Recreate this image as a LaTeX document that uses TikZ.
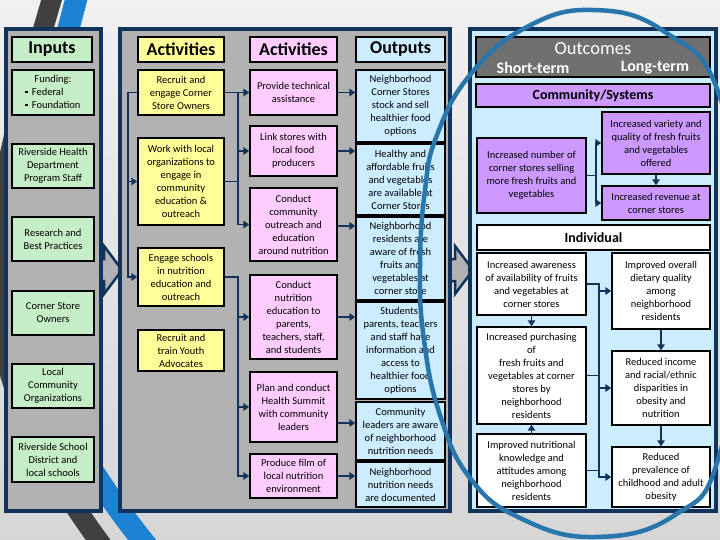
\documentclass[tikz,border=0pt]{standalone}
\usepackage{fontspec}
\setmainfont{Carlito}
\usetikzlibrary{arrows.meta,calc}
\definecolor{cgreen}{RGB}{197,238,199}
\definecolor{cyellow}{RGB}{255,255,153}
\definecolor{cpink}{RGB}{255,204,255}
\definecolor{cblue}{RGB}{204,236,255}
\definecolor{cpurple}{RGB}{204,153,255}
\definecolor{cdgray}{RGB}{112,112,112}
\definecolor{panelgray}{RGB}{178,178,178}
\definecolor{navy}{RGB}{18,52,92}
\definecolor{ellblue}{RGB}{40,118,172}
\definecolor{decogray}{RGB}{64,64,64}
\definecolor{decoblue}{RGB}{28,130,210}
\definecolor{bgtop}{RGB}{240,240,240}
\definecolor{bgbot}{RGB}{214,214,214}
\newcommand\bx[7]{\node[#6, minimum width={(#4-#2)*1pt}, minimum height={(#5-#3)*1pt}] (#1) at ({(#2+#4)/2},{(#3+#5)/2}) {#7};}
\newcommand\sqb{\rule[2pt]{2.4pt}{2.4pt}\hspace{4pt}}
\begin{document}
\begin{tikzpicture}[x=1pt,y=-1pt,
  box/.style={draw=black,line width=1.4pt,inner sep=0pt,align=center,font=\fontsize{10.5}{13}\selectfont},
  gbox/.style={box,fill=cgreen},
  ybox/.style={box,fill=cyellow},
  pbox/.style={box,fill=cpink},
  obox/.style={box,fill=cblue},
  vbox/.style={box,fill=cpurple},
  wbox/.style={box,fill=white},
  hdr/.style={font=\bfseries\fontsize{18}{20}\selectfont},
  bar/.style={font=\bfseries\fontsize{14}{16}\selectfont},
  panel/.style={draw=navy,line width=4pt},
  conn/.style={draw=navy,line width=1.8pt},
  arrc/.style={conn,-{Triangle[length=6pt,width=7.5pt]}},
  chev/.style={draw=navy,line width=2.5pt,fill=panelgray,line join=miter},
]
\useasboundingbox (0,0) rectangle (720,540);
\clip (0,0) rectangle (720,540);
% background
\shade[top color=bgtop,bottom color=bgbot] (0,0) rectangle (720,540);
% decorative swooshes
\draw[decogray,line width=20pt] (56,-15) .. controls (-16,230) and (-50,340) .. (104,548);
\draw[decoblue,line width=22pt] (80,-15) .. controls (15,230) and (-13.5,348) .. (148.5,548);
% chevrons between panels
\draw[chev] (85,259) -- (104,259) -- (104,246) -- (122,270) -- (104,294) -- (104,281) -- (85,281) -- cycle;
\draw[chev] (436,259) -- (455,259) -- (455,246) -- (473,270) -- (455,294) -- (455,281) -- (436,281) -- cycle;
% panels
\draw[panel,fill=panelgray] (6,29) rectangle (101,511);
\draw[panel,fill=panelgray] (120,29) rectangle (450,511);
\draw[panel,fill=cblue] (470,29) rectangle (716,511);
% Inputs
\bx{inh}{12}{37}{92}{62}{gbox,hdr}{Inputs}
\bx{in1}{12}{70}{94}{115}{gbox}{\begin{tabular}{@{}l@{}}\multicolumn{1}{@{}c@{}}{Funding:}\\ \sqb Federal\\ \sqb Foundation\end{tabular}}
\bx{in2}{12}{144}{94}{188}{gbox}{Riverside Health\\Department\\Program Staff}
\bx{in3}{12}{217}{94}{261}{gbox}{Research and\\Best Practices}
\bx{in4}{12}{291}{94}{335}{gbox}{Corner Store\\Owners}
\bx{in5}{12}{364}{94}{408}{gbox}{Local\\Community\\Organizations}
\bx{in6}{12}{437}{94}{482}{gbox}{Riverside School\\District and\\local schools}
% Activities (yellow)
\bx{yah}{138}{37}{224}{62}{ybox,hdr}{Activities}
\bx{ra}{138}{70}{224}{115}{ybox}{Recruit and\\engage Corner\\Store Owners}
\bx{wl}{138}{138}{224}{225}{ybox}{Work with local\\organizations to\\engage in\\community\\education \&\\outreach}
\bx{es}{138}{248}{224}{306}{ybox}{Engage schools\\in nutrition\\education and\\outreach}
\bx{ry}{138}{330}{224}{371}{ybox}{Recruit and\\train Youth\\Advocates}
% Activities (pink)
\bx{pah}{250}{37}{337}{62}{pbox,hdr}{Activities}
\bx{pt}{250}{70}{337}{115}{pbox}{Provide technical\\assistance}
\bx{ls}{250}{126}{337}{176}{pbox}{Link stores with\\local food\\producers}
\bx{cc}{250}{188}{337}{261}{pbox}{Conduct\\community\\outreach and\\education\\around nutrition}
\bx{cn}{250}{275}{337}{359}{pbox}{Conduct\\nutrition\\education to\\parents,\\teachers, staff,\\and students}
\bx{pc}{250}{372}{337}{442}{pbox}{Plan and conduct\\Health Summit\\with community\\leaders}
\bx{pf}{250}{454}{337}{498}{pbox}{Produce film of\\local nutrition\\environment}
% Outputs
\bx{oh}{356}{37}{445}{62}{obox,hdr}{Outputs}
\bx{o1}{356}{70}{445}{142}{obox}{Neighborhood\\Corner Stores\\stock and sell\\healthier food\\options}
\bx{o2}{356}{144}{445}{215}{obox}{Healthy and\\affordable fruits\\and vegetables\\are available at\\Corner Stores}
\bx{o3}{356}{217}{445}{300}{obox}{Neighborhood\\residents are\\aware of fresh\\fruits and\\vegetables at\\corner store}
\bx{o4}{356}{302}{445}{399}{obox}{Students,\\parents, teachers\\and staff have\\information and\\access to\\healthier food\\options}
\bx{o5}{356}{402}{445}{460}{obox}{Community\\leaders are aware\\of neighborhood\\nutrition needs}
\bx{o6}{356}{462}{445}{507}{obox}{Neighborhood\\nutrition needs\\are documented}
% Outcomes
\bx{och}{476}{37}{710}{77}{box,fill=cdgray}{}
\node[text=white,font=\fontsize{18.5}{20}\selectfont] (oct) at (593,49) {Outcomes};
\node[text=white,font=\bfseries\fontsize{16}{18}\selectfont] (ost) at (533,68) {Short-term};
\node[text=white,font=\bfseries\fontsize{16}{18}\selectfont] (olt) at (655,68) {Long-term};
\bx{cs}{476}{84}{710}{107}{vbox,bar}{Community/Systems}
\bx{inum}{477}{138}{586}{213}{vbox}{Increased number of\\corner stores selling\\more fresh fruits and\\vegetables}
\bx{vr}{602}{112}{710}{174}{vbox}{Increased variety and\\quality of fresh fruits\\and vegetables\\offered}
\bx{rv}{602}{186}{710}{220}{vbox}{Increased revenue at\\corner stores}
\bx{ind}{477}{225}{710}{250}{wbox,bar}{Individual}
\bx{aw}{477}{253}{586}{315}{wbox}{Increased awareness\\of availability of fruits\\and vegetables at\\corner stores}
\bx{pu}{477}{327}{586}{424}{wbox}{Increased purchasing\\of\\fresh fruits and\\vegetables at corner\\stores by\\neighborhood\\residents}
\bx{nk}{477}{434}{586}{507}{wbox}{Improved nutritional\\knowledge and\\attitudes among\\neighborhood\\residents}
\bx{dq}{612}{253}{710}{329}{wbox}{Improved overall\\dietary quality\\among\\neighborhood\\residents}
\bx{ri}{612}{351}{710}{425}{wbox}{Reduced income\\and racial/ethnic\\disparities in\\obesity and\\nutrition}
\bx{rp}{612}{447}{710}{507}{wbox}{Reduced\\prevalence of\\childhood and adult\\obesity}
% connectors: yellow column
\draw[arrc] (ra.west) -- ++(-9,0) |- (wl.west);
\draw[arrc] (ra.west) -- ++(-9,0) |- (es.west);
\draw[arrc] (ra.east) -- (pt.west);
\draw[arrc] (ra.east) -- ++(13,0) |- (ls.west);
\draw[arrc] (ra.east) -- ++(13,0) |- (cc.west);
\draw[conn] (wl.east) -- ++(13,0);
\draw[arrc] (es.east) -- ++(13,0) |- (cn.west);
\draw[arrc] (es.east) -- ++(13,0) |- (pc.west);
\draw[arrc] (es.east) -- ++(13,0) |- (pf.west);
% pink to outputs
\draw[arrc] (pt.east) -- (pt.east -| o1.west);
\draw[arrc] (ls.east) -- (ls.east -| o2.west);
\draw[arrc] ([yshift=-1.5pt]cc.east) -- ([yshift=-1.5pt]cc.east -| o3.west);
\draw[arrc] (cn.east) -- (cn.east -| o4.west);
\draw[arrc] ([yshift=-16pt]pc.east) -- ([yshift=-16pt]pc.east -| o5.west);
\draw[arrc] (pf.east) -- (pf.east -| o6.west);
% outcomes connectors
\draw[arrc] (inum.east) -- ++(9,0) |- (vr.west);
\draw[arrc] (inum.east) -- ++(9,0) |- (rv.west);
\draw[arrc] (vr.south) -- (rv.north);
\draw[arrc] (aw.south) -- (pu.north);
\draw[arrc] (nk.north) -- (pu.south);
\draw[arrc] (aw.east) -- ++(12,0) |- (dq.west);
\draw[arrc] (aw.east) -- ++(12,0) |- (ri.west);
\draw[arrc] (aw.east) -- ++(12,0) |- (rp.west);
\draw[conn] (pu.east) -- ++(12,0);
\draw[conn] (nk.east) -- ++(12,0);
\draw[arrc] (dq.south) -- (ri.north);
\draw[arrc] (ri.south) -- (rp.north);
% big ellipse
\draw[ellblue,line width=4.5pt] plot[smooth cycle,tension=0.75] coordinates {(593,10) (665,32) (720,97) (748,270) (720,453) (675,515) (595,537) (520,518) (470,478) (440,415) (424,340) (420,267) (425,190) (437,135) (470,75) (525,28)};
\end{tikzpicture}
\end{document}
